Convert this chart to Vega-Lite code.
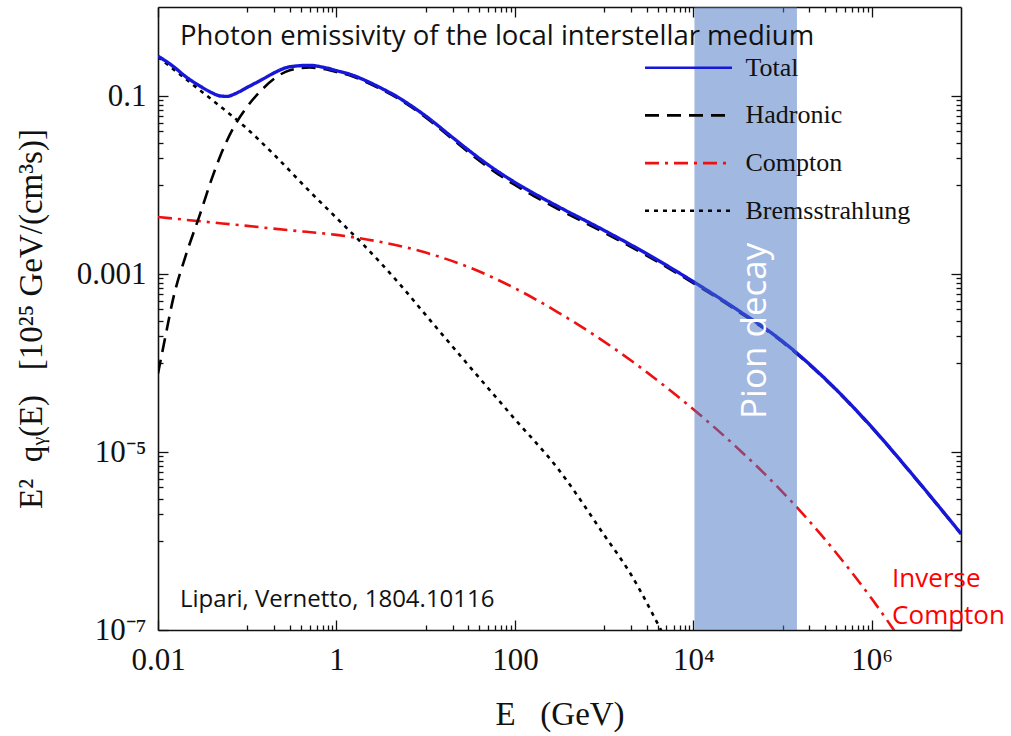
{
  "$schema": "https://vega.github.io/schema/vega-lite/v6.json",
  "width": 803,
  "height": 623,
  "autosize": {"type": "none"},
  "padding": {"left": 158, "top": 7, "right": 50, "bottom": 106},
  "background": "white",
  "datasets": {
    "curves": [
      {"component": "Bremsstrahlung", "E": 0.01, "value": 0.275},
      {"component": "Bremsstrahlung", "E": 0.02, "value": 0.158},
      {"component": "Bremsstrahlung", "E": 0.04, "value": 0.0912},
      {"component": "Bremsstrahlung", "E": 0.1, "value": 0.0427},
      {"component": "Bremsstrahlung", "E": 0.2, "value": 0.0219},
      {"component": "Bremsstrahlung", "E": 0.5, "value": 0.0085},
      {"component": "Bremsstrahlung", "E": 1, "value": 0.00427},
      {"component": "Bremsstrahlung", "E": 2, "value": 0.00214},
      {"component": "Bremsstrahlung", "E": 5, "value": 0.00079},
      {"component": "Bremsstrahlung", "E": 10, "value": 0.000347},
      {"component": "Bremsstrahlung", "E": 30, "value": 0.000095},
      {"component": "Bremsstrahlung", "E": 100, "value": 0.0000234},
      {"component": "Bremsstrahlung", "E": 300, "value": 0.0000066},
      {"component": "Bremsstrahlung", "E": 1000, "value": 0.00000117},
      {"component": "Bremsstrahlung", "E": 2000, "value": 0.00000042},
      {"component": "Bremsstrahlung", "E": 4000, "value": 0.000000117},
      {"component": "Bremsstrahlung", "E": 4500, "value": 0.000000093},

      {"component": "Compton", "E": 0.01, "value": 0.00437},
      {"component": "Compton", "E": 0.03, "value": 0.00391},
      {"component": "Compton", "E": 0.1, "value": 0.00347},
      {"component": "Compton", "E": 0.3, "value": 0.0031},
      {"component": "Compton", "E": 1, "value": 0.00275},
      {"component": "Compton", "E": 3, "value": 0.00231},
      {"component": "Compton", "E": 10, "value": 0.00174},
      {"component": "Compton", "E": 30, "value": 0.0012},
      {"component": "Compton", "E": 100, "value": 0.000692},
      {"component": "Compton", "E": 300, "value": 0.000374},
      {"component": "Compton", "E": 1000, "value": 0.000174},
      {"component": "Compton", "E": 3000, "value": 0.0000789},
      {"component": "Compton", "E": 10000, "value": 0.0000302},
      {"component": "Compton", "E": 30000, "value": 0.0000115},
      {"component": "Compton", "E": 100000, "value": 0.00000355},
      {"component": "Compton", "E": 300000, "value": 0.00000104},
      {"component": "Compton", "E": 1000000, "value": 0.000000224},
      {"component": "Compton", "E": 3000000, "value": 0.000000046},

      {"component": "Hadronic", "E": 0.01, "value": 0.000076},
      {"component": "Hadronic", "E": 0.012, "value": 0.00019},
      {"component": "Hadronic", "E": 0.015, "value": 0.00056},
      {"component": "Hadronic", "E": 0.02, "value": 0.0015},
      {"component": "Hadronic", "E": 0.03, "value": 0.0049},
      {"component": "Hadronic", "E": 0.04, "value": 0.0117},
      {"component": "Hadronic", "E": 0.05, "value": 0.0213},
      {"component": "Hadronic", "E": 0.07, "value": 0.0439},
      {"component": "Hadronic", "E": 0.1, "value": 0.0759},
      {"component": "Hadronic", "E": 0.15, "value": 0.121},
      {"component": "Hadronic", "E": 0.2, "value": 0.156},
      {"component": "Hadronic", "E": 0.3, "value": 0.195},
      {"component": "Hadronic", "E": 0.5, "value": 0.209},
      {"component": "Hadronic", "E": 0.7, "value": 0.202},
      {"component": "Hadronic", "E": 1, "value": 0.186},
      {"component": "Hadronic", "E": 1.5, "value": 0.1666},
      {"component": "Hadronic", "E": 2, "value": 0.1484},
      {"component": "Hadronic", "E": 3, "value": 0.1223},
      {"component": "Hadronic", "E": 5, "value": 0.0927},
      {"component": "Hadronic", "E": 7, "value": 0.0743},
      {"component": "Hadronic", "E": 10, "value": 0.0575},
      {"component": "Hadronic", "E": 20, "value": 0.0327},
      {"component": "Hadronic", "E": 30, "value": 0.0235},
      {"component": "Hadronic", "E": 50, "value": 0.0159},
      {"component": "Hadronic", "E": 100, "value": 0.01},
      {"component": "Hadronic", "E": 200, "value": 0.00672},
      {"component": "Hadronic", "E": 300, "value": 0.00541},
      {"component": "Hadronic", "E": 1000, "value": 0.00292},
      {"component": "Hadronic", "E": 3000, "value": 0.00161},
      {"component": "Hadronic", "E": 10000, "value": 0.00079},
      {"component": "Hadronic", "E": 30000, "value": 0.000395},
      {"component": "Hadronic", "E": 100000, "value": 0.000171},
      {"component": "Hadronic", "E": 300000, "value": 0.0000655},
      {"component": "Hadronic", "E": 1000000, "value": 0.0000188},
      {"component": "Hadronic", "E": 3000000, "value": 0.0000052},
      {"component": "Hadronic", "E": 10000000, "value": 0.0000012},

      {"component": "Total", "E": 0.01, "value": 0.281},
      {"component": "Total", "E": 0.015, "value": 0.213},
      {"component": "Total", "E": 0.02, "value": 0.168},
      {"component": "Total", "E": 0.03, "value": 0.128},
      {"component": "Total", "E": 0.04, "value": 0.109},
      {"component": "Total", "E": 0.05, "value": 0.1},
      {"component": "Total", "E": 0.06, "value": 0.099},
      {"component": "Total", "E": 0.07, "value": 0.104},
      {"component": "Total", "E": 0.1, "value": 0.125},
      {"component": "Total", "E": 0.15, "value": 0.155},
      {"component": "Total", "E": 0.2, "value": 0.182},
      {"component": "Total", "E": 0.3, "value": 0.213},
      {"component": "Total", "E": 0.5, "value": 0.221},
      {"component": "Total", "E": 0.7, "value": 0.211},
      {"component": "Total", "E": 1, "value": 0.193},
      {"component": "Total", "E": 1.5, "value": 0.172},
      {"component": "Total", "E": 2, "value": 0.153},
      {"component": "Total", "E": 3, "value": 0.126},
      {"component": "Total", "E": 5, "value": 0.0955},
      {"component": "Total", "E": 7, "value": 0.0767},
      {"component": "Total", "E": 10, "value": 0.0596},
      {"component": "Total", "E": 20, "value": 0.0342},
      {"component": "Total", "E": 30, "value": 0.0248},
      {"component": "Total", "E": 50, "value": 0.0169},
      {"component": "Total", "E": 100, "value": 0.0107},
      {"component": "Total", "E": 200, "value": 0.00719},
      {"component": "Total", "E": 300, "value": 0.00578},
      {"component": "Total", "E": 1000, "value": 0.00309},
      {"component": "Total", "E": 3000, "value": 0.00169},
      {"component": "Total", "E": 10000, "value": 0.00082},
      {"component": "Total", "E": 30000, "value": 0.000406},
      {"component": "Total", "E": 100000, "value": 0.000175},
      {"component": "Total", "E": 300000, "value": 0.0000665},
      {"component": "Total", "E": 1000000, "value": 0.000019},
      {"component": "Total", "E": 3000000, "value": 0.00000526},
      {"component": "Total", "E": 10000000, "value": 0.00000121}
    ],
    "band": [{"label": "Pion decay", "E_start": 10300, "E_end": 145000}]
  },
  "resolve": {"axis": {"x": "independent", "y": "independent"}},
  "layer": [
    {
      "data": {"name": "curves"},
      "transform": [{"filter": "datum.component !== 'Total'"}],
      "mark": {"type": "line", "strokeWidth": 2.6, "clip": true, "interpolate": "monotone"},
      "encoding": {
        "x": {
          "field": "E", "type": "quantitative",
          "scale": {"type": "log", "domain": [0.01, 10000000], "nice": false},
          "axis": {
            "orient": "bottom", "values": [0.01, 1, 100, 10000, 1000000],
            "tickSize": -10, "labelPadding": 25, "labelFlush": false, "labelOverlap": false,
            "labelExpr": "datum.value < 0.1 ? '0.01' : datum.value < 10 ? '1' : datum.value < 1000 ? '100' : datum.value < 100000 ? '10⁴' : '10⁶'",
            "title": "E\u00a0\u00a0\u00a0(GeV)", "titlePadding": 23
          }
        },
        "y": {
          "field": "value", "type": "quantitative",
          "scale": {"type": "log", "domain": [0.0000001, 1], "nice": false},
          "axis": {
            "orient": "left", "values": [0.0000001, 0.00001, 0.001, 0.1],
            "tickSize": -10, "labelPadding": 22, "labelFlush": false, "labelOverlap": false,
            "labelExpr": "datum.value > 0.01 ? '0.1' : datum.value > 0.0001 ? '0.001' : datum.value > 0.000001 ? '10⁻⁵' : '10⁻⁷'",
            "title": "E²\u00a0\u00a0qᵧ(E)\u00a0\u00a0\u00a0[10²⁵ GeV/(cm³s)]", "titlePadding": 28
          }
        },
        "color": {
          "field": "component", "type": "nominal",
          "scale": {"domain": ["Total", "Hadronic", "Compton", "Bremsstrahlung"], "range": ["#1717d9", "#000000", "#ee1111", "#000000"]},
          "legend": {"orient": "none", "legendX": 485.5, "legendY": 44.7, "title": null, "direction": "vertical", "labelFont": "Liberation Serif", "labelFontSize": 26, "labelColor": "#111111", "symbolType": "stroke", "symbolSize": 7569, "symbolStrokeWidth": 2.6, "clipHeight": 32, "rowPadding": 15.7, "labelOffset": 12, "padding": 0, "labelLimit": 400}
        },
        "strokeDash": {
          "field": "component", "type": "nominal",
          "scale": {"domain": ["Total", "Hadronic", "Compton", "Bremsstrahlung"], "range": [[1, 0], [14, 8], [14, 6, 3, 6], [4, 5]]},
          "legend": {"orient": "none", "legendX": 485.5, "legendY": 44.7, "title": null, "direction": "vertical", "labelFont": "Liberation Serif", "labelFontSize": 26, "labelColor": "#111111", "symbolType": "stroke", "symbolSize": 7569, "symbolStrokeWidth": 2.6, "clipHeight": 32, "rowPadding": 15.7, "labelOffset": 12, "padding": 0, "labelLimit": 400}
        }
      }
    },
    {
      "data": {"name": "curves"},
      "transform": [{"filter": "datum.component === 'Total'"}],
      "mark": {"type": "line", "strokeWidth": 3.4, "clip": true, "interpolate": "monotone"},
      "encoding": {
        "x": {
          "field": "E", "type": "quantitative",
          "scale": {"type": "log", "domain": [0.01, 10000000], "nice": false},
          "axis": {"orient": "top", "values": [0.01, 1, 100, 10000, 1000000], "tickSize": -10, "labels": false, "title": null}
        },
        "y": {
          "field": "value", "type": "quantitative",
          "scale": {"type": "log", "domain": [0.0000001, 1], "nice": false},
          "axis": {"orient": "right", "values": [0.0000001, 0.00001, 0.001, 0.1], "tickSize": -10, "labels": false, "title": null}
        },
        "color": {
          "field": "component", "type": "nominal",
          "scale": {"domain": ["Total", "Hadronic", "Compton", "Bremsstrahlung"], "range": ["#1717d9", "#000000", "#ee1111", "#000000"]},
          "legend": {"orient": "none", "legendX": 485.5, "legendY": 44.7, "title": null, "direction": "vertical", "labelFont": "Liberation Serif", "labelFontSize": 26, "labelColor": "#111111", "symbolType": "stroke", "symbolSize": 7569, "symbolStrokeWidth": 2.6, "clipHeight": 32, "rowPadding": 15.7, "labelOffset": 12, "padding": 0, "labelLimit": 400}
        },
        "strokeDash": {
          "field": "component", "type": "nominal",
          "scale": {"domain": ["Total", "Hadronic", "Compton", "Bremsstrahlung"], "range": [[1, 0], [14, 8], [14, 6, 3, 6], [4, 5]]},
          "legend": {"orient": "none", "legendX": 485.5, "legendY": 44.7, "title": null, "direction": "vertical", "labelFont": "Liberation Serif", "labelFontSize": 26, "labelColor": "#111111", "symbolType": "stroke", "symbolSize": 7569, "symbolStrokeWidth": 2.6, "clipHeight": 32, "rowPadding": 15.7, "labelOffset": 12, "padding": 0, "labelLimit": 400}
        }
      }
    },
    {
      "data": {"name": "band"},
      "mark": {"type": "rect", "fill": "#4472C4", "opacity": 0.5},
      "encoding": {
        "x": {
          "field": "E_start", "type": "quantitative",
          "scale": {"type": "log", "domain": [0.01, 10000000], "nice": false},
          "axis": {"orient": "bottom", "values": [0.1, 0.2, 0.3, 0.4, 0.5, 0.6, 0.7, 0.8, 0.9, 10, 20, 30, 40, 50, 60, 70, 80, 90, 1000, 2000, 3000, 4000, 5000, 6000, 7000, 8000, 9000, 100000, 200000, 300000, 400000, 500000, 600000, 700000, 800000, 900000], "tickSize": -5, "labels": false, "domain": false, "title": null}
        },
        "x2": {"field": "E_end"}
      }
    },
    {
      "data": {"values": [{}]},
      "mark": {"type": "text", "angle": 270, "font": "Open Sans", "fontSize": 35, "color": "white", "align": "center", "baseline": "middle", "text": "Pion decay"},
      "encoding": {
        "x": {
          "datum": 49000, "type": "quantitative",
          "scale": {"type": "log", "domain": [0.01, 10000000], "nice": false},
          "axis": {"orient": "top", "values": [0.1, 0.2, 0.3, 0.4, 0.5, 0.6, 0.7, 0.8, 0.9, 10, 20, 30, 40, 50, 60, 70, 80, 90, 1000, 2000, 3000, 4000, 5000, 6000, 7000, 8000, 9000, 100000, 200000, 300000, 400000, 500000, 600000, 700000, 800000, 900000], "tickSize": -5, "labels": false, "domain": false, "title": null}
        },
        "y": {
          "datum": 0.00023, "type": "quantitative",
          "scale": {"type": "log", "domain": [0.0000001, 1], "nice": false},
          "axis": {"orient": "left", "values": [0.01, 0.02, 0.03, 0.04, 0.05, 0.06, 0.07, 0.08, 0.09, 0.0001, 0.0002, 0.0003, 0.0004, 0.0005, 0.0006, 0.0007, 0.0008, 0.0009, 0.000001, 0.000002, 0.000003, 0.000004, 0.000005, 0.000006, 0.000007, 0.000008, 0.000009], "tickSize": -5, "labels": false, "domain": false, "title": null}
        }
      }
    },
    {
      "data": {"values": [{}]},
      "mark": {"type": "text", "font": "Open Sans", "fontSize": 27.5, "color": "#111111", "align": "left", "baseline": "alphabetic", "text": "Photon emissivity of the local interstellar medium"},
      "encoding": {
        "x": {"datum": 0.01764, "type": "quantitative", "scale": {"type": "log", "domain": [0.01, 10000000], "nice": false}, "axis": null},
        "y": {
          "datum": 0.374, "type": "quantitative",
          "scale": {"type": "log", "domain": [0.0000001, 1], "nice": false},
          "axis": {"orient": "right", "values": [0.01, 0.02, 0.03, 0.04, 0.05, 0.06, 0.07, 0.08, 0.09, 0.0001, 0.0002, 0.0003, 0.0004, 0.0005, 0.0006, 0.0007, 0.0008, 0.0009, 0.000001, 0.000002, 0.000003, 0.000004, 0.000005, 0.000006, 0.000007, 0.000008, 0.000009], "tickSize": -5, "labels": false, "domain": false, "title": null}
        }
      }
    },
    {
      "data": {"values": [{}]},
      "mark": {"type": "text", "font": "Open Sans", "fontSize": 24, "color": "#111111", "align": "left", "baseline": "alphabetic", "text": "Lipari, Vernetto, 1804.10116"},
      "encoding": {
        "x": {"datum": 0.01764, "type": "quantitative", "scale": {"type": "log", "domain": [0.01, 10000000], "nice": false}, "axis": null},
        "y": {"datum": 0.000000181, "type": "quantitative", "scale": {"type": "log", "domain": [0.0000001, 1], "nice": false}, "axis": null}
      }
    },
    {
      "data": {"values": [{}]},
      "mark": {"type": "text", "font": "Open Sans", "fontSize": 26, "color": "#ff0000", "align": "left", "baseline": "alphabetic", "lineHeight": 37, "text": ["Inverse", "Compton"]},
      "encoding": {
        "x": {"datum": 1690000, "type": "quantitative", "scale": {"type": "log", "domain": [0.01, 10000000], "nice": false}, "axis": null},
        "y": {"datum": 0.000000304, "type": "quantitative", "scale": {"type": "log", "domain": [0.0000001, 1], "nice": false}, "axis": null}
      }
    }
  ],
  "config": {
    "view": {"stroke": null},
    "axis": {
      "grid": false,
      "domainColor": "#111111",
      "domainWidth": 1.6,
      "tickColor": "#111111",
      "tickWidth": 1.3,
      "labelFont": "Liberation Serif",
      "labelFontSize": 31,
      "labelColor": "#111111",
      "titleFont": "Liberation Serif",
      "titleFontSize": 33,
      "titleFontWeight": "normal",
      "titleColor": "#111111",
      "zindex": 1
    }
  }
}
